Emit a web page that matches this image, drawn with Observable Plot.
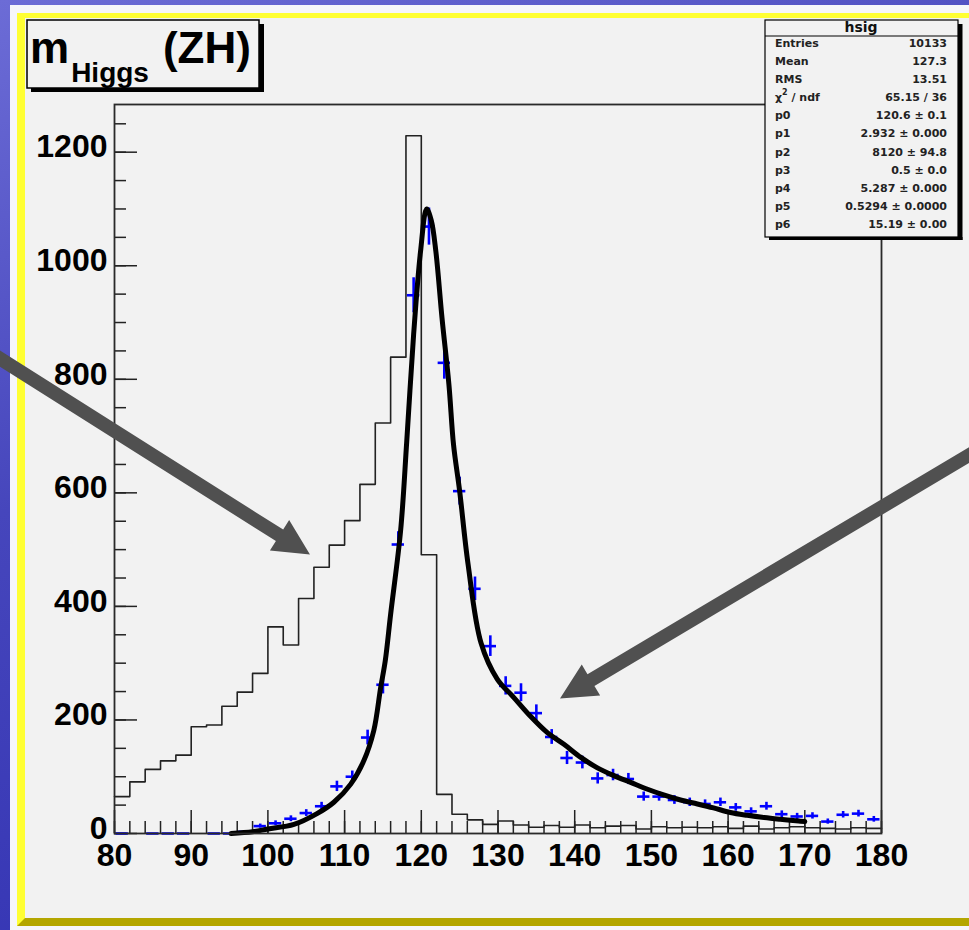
<!DOCTYPE html>
<html><head><meta charset="utf-8">
<script src="https://cdn.jsdelivr.net/npm/d3@7"></script>
<script src="https://cdn.jsdelivr.net/npm/@observablehq/plot@0.6"></script>
<style>
html,body{margin:0;padding:0;width:969px;height:930px;overflow:hidden;}
body{position:relative;background:linear-gradient(160deg,#6c6cd6 0%,#4646bc 40%,#2c2cb0 100%);font-family:"Liberation Sans",Arial,sans-serif;}
#white{position:absolute;left:10px;top:5px;width:990px;height:930px;background:#f6f6fa;}
#panel{position:absolute;left:17px;top:13px;width:990px;height:913px;background:#f2f2f2;border-left:8px solid #ffff33;border-top:5px solid #ffff33;border-bottom:8px solid #b4a600;box-sizing:border-box;}
#chart{position:absolute;left:0;top:0;z-index:1;}
#overlay{position:absolute;left:0;top:0;z-index:2;}
</style></head>
<body>
<div id="white"></div>
<div id="panel"></div>
<div id="chart"></div>
<svg id="overlay" width="969" height="930"></svg>
<script>
// ---- data ----
const histLowEdges = [80,82,84,86,88,90,92,94,96,98,100,102,104,106,108,110,112,114,116,118,120,122,124,126,128,130,132,134,136,138,140,142,144,146,148,150,152,154,156,158,160,162,164,166,168,170,172,174,176,178];
const histCounts = [65,91,113,128,138,188,191,224,249,282,364,332,414,469,508,551,615,723,839,1229,491,69,34,24,16,22,15,11,14,11,15,10,13,14,8,12,10,11,10,12,9,13,8,10,12,10,9,8,10,9];

const sigCenters = [81,83,85,87,89,91,93,95,97,99,101,103,105,107,109,111,113,115,117,119,121,123,125,127,129,131,133,135,137,139,141,143,145,147,149,151,153,155,157,159,161,163,165,167,169,171,173,175,177,179];
const sigCounts = [0,null,0,0,0,null,0,0,3,13,18,26,36,48,83,100,169,262,509,948,1069,829,603,431,330,260,248,212,170,133,125,97,103,96,65,65,59,55,52,55,46,39,48,34,30,31,21,33,35,25];

const fitX = [95.2,98,100,103.4,106.4,108.6,110.8,112.5,113.8,114.7,115.3,116.0,117.3,118.1,119.0,119.9,120.7,121.3,121.9,122.7,123.6,124.2,125.0,126.1,127.8,129.9,132.1,134.2,136.4,138.6,140.8,142.9,145.1,147.3,149.5,151.6,153.8,156.0,158.1,160.3,162.5,164.7,166.8,169.2,170.0];
const fitY = [0,3,8,16,35,55,87,128,181,257,304,386,533,690,879,1025,1100,1080,1025,908,791,685,603,474,335,272,239,207,178,157,134,116,102,90,78,68,59,52,45,37,32,28,25,22,21];

const xTickLabels = [80,90,100,110,120,130,140,150,160,170,180];
const xMinorTicks = d3.range(80, 181, 2);
const yTickLabels = [0,200,400,600,800,1000,1200];
const yMinorTicks = d3.range(0, 1251, 50);

const titleMain = "m", titleSub = "Higgs", titleTail = "(ZH)";
const statsName = "hsig";
const statLabels = ["Entries","Mean","RMS","χ2 / ndf","p0","p1","p2","p3","p4","p5","p6"];
const statValues = ["10133","127.3","13.51","65.15 / 36","120.6 ± 0.1","2.932 ± 0.000","8120 ± 94.8","0.5 ± 0.0","5.287 ± 0.000","0.5294 ± 0.0000","15.19 ± 0.00"];

// annotation arrows (data units)
const arrowTailX = [63.8, 192.9];
const arrowTailY = [847, 677];
const arrowTipX = [105.55, 138.15];
const arrowTipY = [490.4, 237.0];

// ---- derived tables ----
const histPts = histLowEdges.map((e,i)=>({x:e, y:histCounts[i]}));
histPts.push({x:180, y:histCounts[histCounts.length-1]});
const sig = sigCenters.map((c,i)=>({c, v:sigCounts[i]})).filter(d=>d.v!==null).map(d=>({...d, e:Math.sqrt(d.v)}));
const fit = fitX.map((x,i)=>({x, y:fitY[i]}));

const frameW = 969-114-88, frameH = 930-104-97;

const arrowMark = (index, scales) => {
  const g = d3.create("svg:g").attr("fill", "#505050");
  arrowTailX.forEach((_, i) => {
    const x1 = scales.x(arrowTailX[i]), y1 = scales.y(arrowTailY[i]);
    const x2 = scales.x(arrowTipX[i]), y2 = scales.y(arrowTipY[i]);
    const len = Math.hypot(x2-x1, y2-y1), ux=(x2-x1)/len, uy=(y2-y1)/len, nx=-uy, ny=ux;
    const w=6.8, H=18, L=36;
    const bx = x2-ux*L, by = y2-uy*L;
    const pts = [[x1+nx*w,y1+ny*w],[bx+nx*w,by+ny*w],[bx+nx*H,by+ny*H],[x2,y2],[bx-nx*H,by-ny*H],[bx-nx*w,by-ny*w],[x1-nx*w,y1-ny*w]];
    g.append("path").attr("d", "M" + pts.map(p=>p.join(",")).join("L") + "Z");
  });
  return g.node();
};

const plot = Plot.plot({
  width: 969, height: 930,
  marginLeft: 114, marginRight: 88, marginTop: 104, marginBottom: 97,
  x: {domain: [80, 180]},
  y: {domain: [0, 1284]},
  style: {background: "transparent", fontFamily: "Liberation Sans", color: "#000", overflow: "visible"},
  marks: [
    Plot.tickY(yMinorTicks, {y: d=>d, insetRight: frameW-12, stroke: "#222", strokeWidth: 1.5}),
    Plot.tickY(yTickLabels, {y: d=>d, insetRight: frameW-23, stroke: "#222", strokeWidth: 1.5}),
    Plot.tickX(xMinorTicks, {x: d=>d, insetTop: frameH-12, stroke: "#222", strokeWidth: 1.5}),
    Plot.tickX(xTickLabels, {x: d=>d, insetTop: frameH-23, stroke: "#222", strokeWidth: 1.5}),
    Plot.line(histPts, {x: "x", y: "y", curve: "step-after", stroke: "#222", strokeWidth: 1.6}),
    Plot.ruleX(sig, {x: "c", y1: d=>d.v-d.e, y2: d=>d.v+d.e, stroke: "#0000ff", strokeWidth: 2.6}),
    Plot.ruleY(sig, {y: "v", x1: d=>d.c-1, x2: d=>d.c+1, insetLeft: 1.5, insetRight: 1.5, stroke: "#0000ff", strokeWidth: 2.6}),
    Plot.line(fit, {x: "x", y: "y", curve: "catmull-rom", stroke: "#000", strokeWidth: 5}),
    Plot.frame({stroke: "#2a2a2a", strokeWidth: 1.8}),
    Plot.axisY(yTickLabels, {tickSize: 0, tickPadding: 7, fontSize: 32, fontWeight: "bold", dy: -5, label: null, tickFormat: d=>String(d)}),
    Plot.axisX(xTickLabels, {tickSize: 0, tickPadding: 10, fontSize: 32, fontWeight: "bold", label: null, tickFormat: d=>String(d)}),
    arrowMark
  ]
});
document.getElementById("chart").appendChild(plot);

// ---- overlay: title box and stats box ----
const ov = d3.select("#overlay");
// title box
ov.append("rect").attr("x",259).attr("y",24).attr("width",5).attr("height",68).attr("fill","#000");
ov.append("rect").attr("x",31).attr("y",88).attr("width",233).attr("height",4).attr("fill","#000");
ov.append("rect").attr("x",27).attr("y",20).attr("width",232).attr("height",68).attr("fill","#f2f2f2").attr("stroke","#000").attr("stroke-width",1.5);
const tt = ov.append("text").attr("x",30).attr("y",63).attr("font-family","Liberation Sans").attr("font-weight","bold").attr("font-size",44).attr("fill","#000");
tt.append("tspan").text(titleMain);
tt.append("tspan").attr("dy",19).attr("dx",2).attr("font-size",28).text(titleSub);
tt.append("tspan").attr("dy",-19).attr("dx",14).text(titleTail);

// stats box
ov.append("rect").attr("x",958).attr("y",24).attr("width",4.5).attr("height",216).attr("fill","#000");
ov.append("rect").attr("x",769).attr("y",237).attr("width",193.5).attr("height",3).attr("fill","#000");
ov.append("rect").attr("x",765).attr("y",20).attr("width",193).attr("height",217).attr("fill","#f2f2f2").attr("stroke","#000").attr("stroke-width",1.2);
ov.append("line").attr("x1",765).attr("x2",958).attr("y1",36).attr("y2",36).attr("stroke","#000").attr("stroke-width",1.2);
ov.append("text").attr("x",861).attr("y",32).attr("text-anchor","middle").attr("font-family","DejaVu Sans").attr("font-weight","bold").attr("font-size",14).attr("fill","#111").text(statsName);
statLabels.forEach((lab,i)=>{
  const y = 46.7 + i*18.15;
  const t = ov.append("text").attr("x",775).attr("y",y).attr("font-family","DejaVu Sans").attr("font-weight","bold").attr("font-size",11).attr("fill","#222");
  if (lab.startsWith("χ2")) {
    t.append("tspan").text("χ");
    t.append("tspan").attr("dy",-6).attr("font-size",8).text("2");
    t.append("tspan").attr("dy",6).text(lab.slice(2));
  } else t.text(lab);
  ov.append("text").attr("x",947).attr("y",y).attr("text-anchor","end").attr("font-family","DejaVu Sans").attr("font-weight","bold").attr("font-size",11).attr("fill","#222").text(statValues[i]);
});
</script>
</body></html>
